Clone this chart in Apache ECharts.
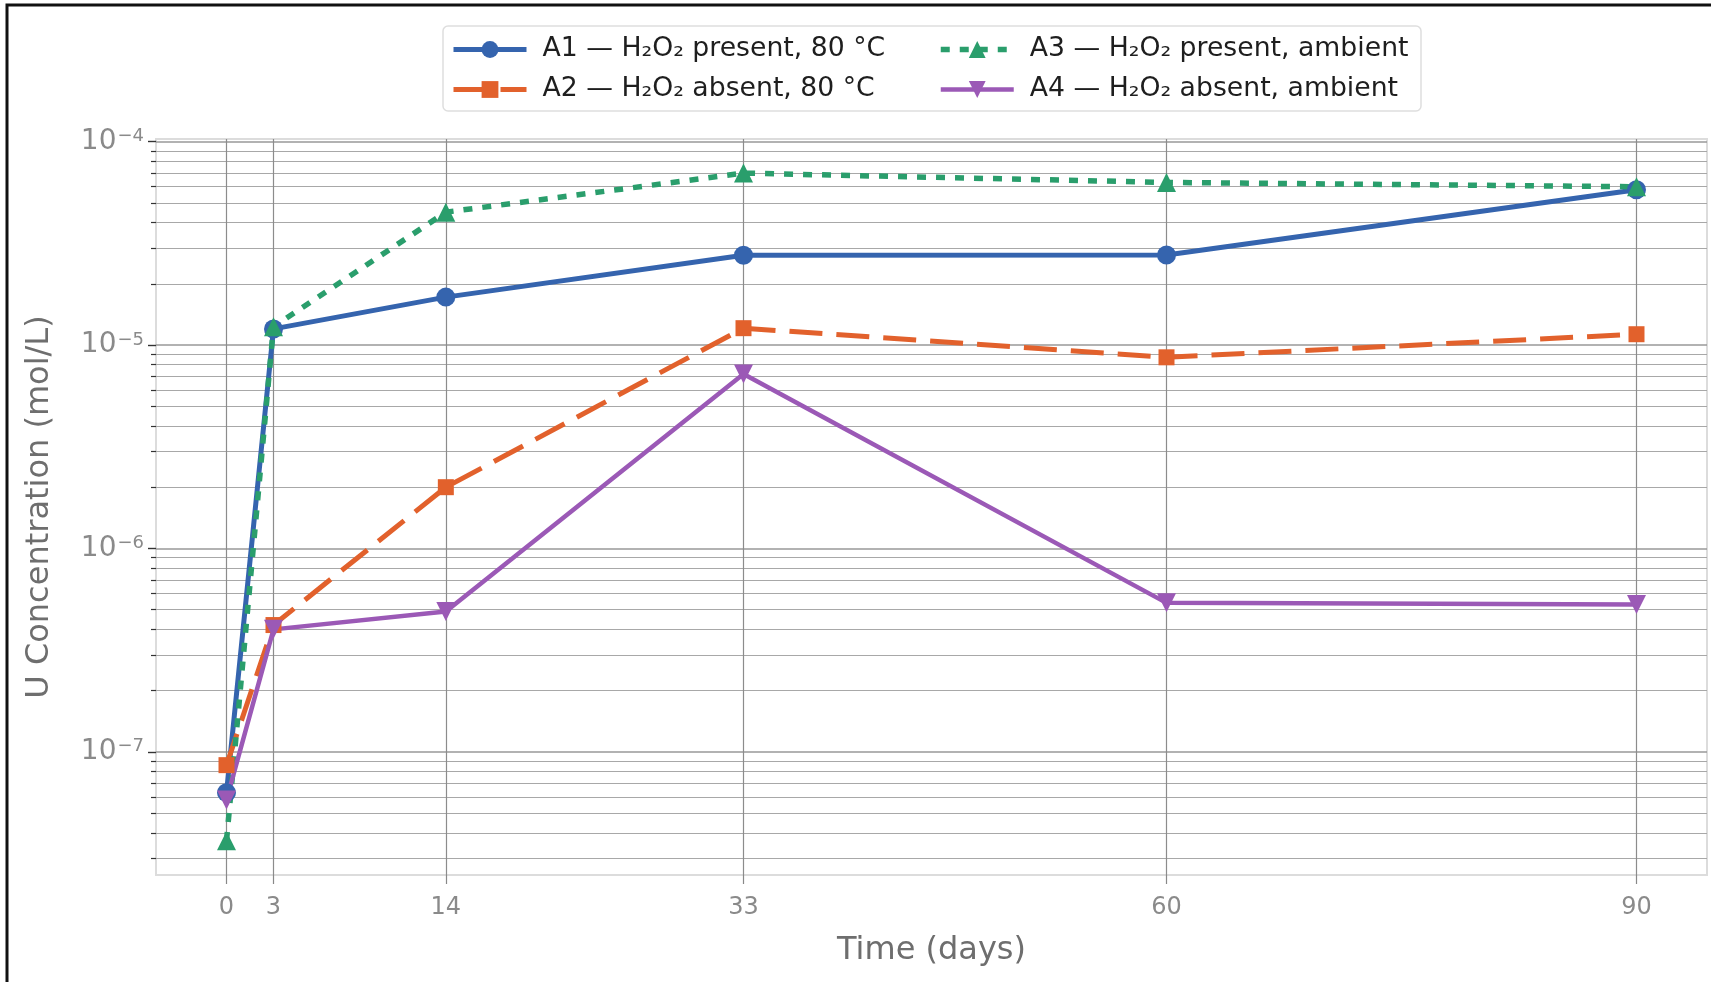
<!DOCTYPE html>
<html>
<head>
<meta charset="utf-8">
<title>U Concentration vs Time</title>
<script src="https://cdn.jsdelivr.net/npm/echarts@6/dist/echarts.min.js"></script>
<style>
  html, body { margin: 0; padding: 0; background: #fff; }
  #chart { width: 1711px; height: 982px; }
</style>
</head>
<body>
<div id="chart"></div>
<script>
// data (mol/L)
var days = [0, 3, 14, 33, 60, 90];
var a1 = [6.3e-8, 1.2e-5, 1.72e-5, 2.76e-5, 2.77e-5, 5.8e-5];
var a2 = [8.6e-8, 4.2e-7, 2.0e-6, 1.21e-5, 8.7e-6, 1.13e-5];
var a3 = [3.65e-8, 1.23e-5, 4.5e-5, 7.0e-5, 6.3e-5, 6.0e-5];
var a4 = [5.8e-8, 4.0e-7, 4.9e-7, 7.2e-6, 5.4e-7, 5.3e-7];

var names = [
  'A1 — H₂O₂ present, 80 °C',
  'A2 — H₂O₂ absent, 80 °C',
  'A3 — H₂O₂ present, ambient',
  'A4 — H₂O₂ absent, ambient'
];

var xTicks = [0, 3, 14, 33, 60, 90];
var yMajor = [1e-7, 1e-6, 1e-5, 1e-4];
var yMinor = [
  3e-8, 4e-8, 5e-8, 6e-8, 7e-8, 8e-8, 9e-8,
  2e-7, 3e-7, 4e-7, 5e-7, 6e-7, 7e-7, 8e-7, 9e-7,
  2e-6, 3e-6, 4e-6, 5e-6, 6e-6, 7e-6, 8e-6, 9e-6,
  2e-5, 3e-5, 4e-5, 5e-5, 6e-5, 7e-5, 8e-5, 9e-5
];

var FONT = 'DejaVu Sans';
var chart = echarts.init(document.getElementById('chart'));

var pairs = function (xs, ys) {
  return xs.map(function (x, i) { return [x, ys[i]]; });
};

var supLabel = function (v) {
  var e = Math.round(Math.log(v) / Math.LN10);
  return '{b|10}{s|' + (e < 0 ? '−' : '') + Math.abs(e) + '}';
};

var lineSeries = function (name, data, color, symbol, size, lineType, width, rotate) {
  return {
    name: name,
    type: 'line',
    data: pairs(days, data),
    symbol: symbol,
    symbolSize: size,
    symbolRotate: rotate || 0,
    lineStyle: { color: color, width: width, type: lineType },
    itemStyle: { color: color },
    emphasis: { disabled: true }
  };
};

var legendCommon = {
  orient: 'vertical',
  top: 36,
  padding: 0,
  itemWidth: 73,
  itemHeight: 21,
  itemGap: 13,
  z: 5,
  lineStyle: { width: 'inherit', type: 'inherit' },
  textStyle: { fontFamily: FONT, fontSize: 26.7, color: '#1e1e1e', padding: [0, 0, 0, 11] }
};

var option = {
  animation: false,
  backgroundColor: '#fff',
  textStyle: { fontFamily: FONT },
  graphic: [
    // outer figure frame (only left/top visible)
    { type: 'rect', z: 0, shape: { x: 7, y: 5, width: 2000, height: 2000 },
      style: { fill: 'none', stroke: '#111', lineWidth: 3 } },
    // legend box
    { type: 'rect', z: 1, shape: { x: 443, y: 26, width: 978, height: 85, r: 5 },
      style: { fill: '#fff', stroke: '#dedede', lineWidth: 1.5 } }
  ],
  legend: [
    Object.assign({ left: 451, data: [names[0], names[1]] }, legendCommon),
    Object.assign({ left: 938, data: [names[2], names[3]] }, legendCommon)
  ],
  grid: {
    left: 156, right: 4, top: 139, bottom: 107,
    show: true, borderColor: '#dcdcdc', borderWidth: 2,
    outerBoundsMode: 'none'
  },
  xAxis: {
    type: 'value', min: -4.5, max: 94.5,
    name: 'Time (days)', nameLocation: 'middle', nameGap: 60,
    nameTextStyle: { fontSize: 32, color: '#6e6e6e' },
    axisLine: { show: false, onZero: false },
    axisTick: { show: true, length: 9, customValues: xTicks, lineStyle: { color: '#888', width: 1.2 } },
    axisLabel: { customValues: xTicks, margin: 21, fontSize: 24, color: '#8a8a8a' },
    splitLine: { show: true, lineStyle: { color: '#8c8c8c', width: 1.2 } }
  },
  yAxis: [
    {
      // minor ticks / grid
      type: 'log', min: 2.48e-8, max: 1.03e-4, position: 'left',
      axisLine: { show: false, onZero: false },
      axisTick: { show: true, length: 5, customValues: yMinor, lineStyle: { color: '#333', width: 1.2 } },
      axisLabel: { show: false },
      splitLine: { show: true, lineStyle: { color: '#a8a8a8', width: 1.2 } }
    },
    {
      // decades with labels
      type: 'log', min: 2.48e-8, max: 1.03e-4, position: 'left',
      name: 'U Concentration (mol/L)', nameLocation: 'middle', nameGap: 100,
      nameTextStyle: { fontSize: 32, color: '#6e6e6e' },
      axisLine: { show: false, onZero: false },
      axisTick: { show: true, length: 8, customValues: yMajor, lineStyle: { color: '#333', width: 1.4 } },
      axisLabel: {
        customValues: yMajor, margin: 12, formatter: supLabel,
        rich: {
          b: { fontSize: 28, color: '#8a8a8a', fontFamily: FONT, verticalAlign: 'bottom', lineHeight: 28 },
          s: { fontSize: 18, color: '#8a8a8a', fontFamily: FONT, verticalAlign: 'top', lineHeight: 18, padding: [0, 0, 13, 1] }
        }
      },
      splitLine: { show: true, lineStyle: { color: '#999', width: 1.6 } }
    }
  ],
  series: [
    lineSeries(names[0], a1, '#3564ae', 'circle', 19, 'solid', 5),
    lineSeries(names[1], a2, '#e2612c', 'rect', 16, [33, 14], 5),
    lineSeries(names[2], a3, '#2a9e6c', 'triangle', 19, [9, 10], 5.5),
    lineSeries(names[3], a4, '#9b59b6', 'triangle', 19, 'solid', 4.5, 180)
  ]
};

chart.setOption(option);
</script>
</body>
</html>
